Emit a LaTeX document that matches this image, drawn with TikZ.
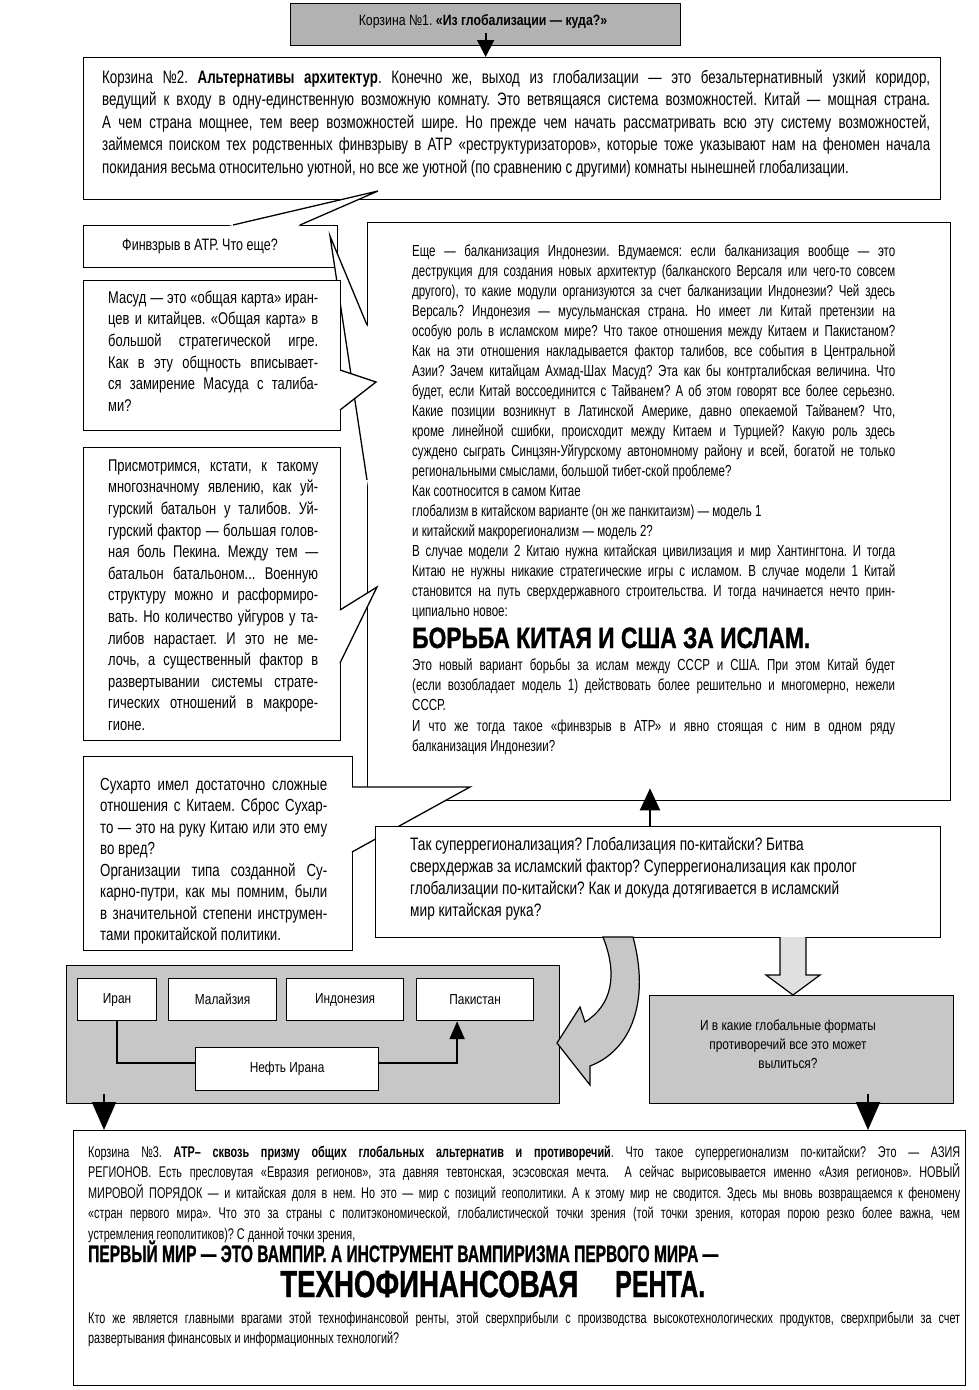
\documentclass[tikz,border=0pt]{standalone}
\usepackage{fontspec}
\usepackage{graphicx}
\setmainfont{Liberation Sans}[FakeStretch=0.82]
\newfontfamily\fA{Liberation Sans}[FakeStretch=0.74]
\newfontfamily\fB{Liberation Sans}[FakeStretch=0.72]
\newfontfamily\fL{Liberation Sans}[FakeStretch=0.76]
\newfontfamily\fC{Liberation Sans}[FakeStretch=0.70]
\newfontfamily\fT{Liberation Sans}[FakeStretch=0.76]
\newfontfamily\heavyfont{Liberation Sans}[BoldFeatures={FakeBold=1.2}]
\usetikzlibrary{arrows.meta,calc}
\def\jw{100pt}
\newcommand\Sp{\spaceskip=0pt\xspaceskip=0pt\relax}
\newcommand\J[1]{\makebox[\jw][s]{\Sp #1}}
\newcommand\fsz[2]{\fontsize{#1}{#2}\selectfont}
\newcommand\Hd[3]{\resizebox{#1}{#2}{\heavyfont\fontsize{\the\dimexpr #2*139/100\relax}{10pt}\selectfont\bfseries\raisebox{0pt}[0.716em][0pt]{#3}}}
\newcommand\Tail[3]{\fill[white] (#1) -- ($(#1)!1.08!(#2)$) -- ($(#1)!1.08!(#3)$) -- cycle;
  \draw[tailline] (#2) -- (#1) -- (#3);}
\begin{document}
\frenchspacing
\begin{tikzpicture}[x=1pt,y=-1pt,
  box/.style={draw=black,fill=white,line width=1.3pt,inner sep=0pt,anchor=north west},
  gbox/.style={box,fill=black!22},
  cell/.style={draw=black,fill=white,line width=1.2pt,anchor=north west,inner sep=0pt,font=\fsz{14.5}{16}},
  txt/.style={anchor=north west,inner sep=0pt,align=left},
  ctxt/.style={inner sep=0pt,align=center},
  tailline/.style={draw=black,line width=1.3pt,line join=miter},
  arr/.style={line width=2.4pt,-{Triangle[length=28pt,width=24pt]}},
  conn/.style={line width=2.2pt},
]
\useasboundingbox (0,0) rectangle (978,1390);
\fill[white] (0,0) rectangle (978,1390);

% Basket 2
\node[box,minimum width=857pt,minimum height=142pt] (k2) at (83,57) {};
\node[txt,text width=828pt,font={\fA\fsz{18}{22.5}\def\jw{828pt}}] (k2t) at (102,65) {\Sp
\J{\rule{0pt}{18pt}Корзина №2. \textbf{Альтернативы архитектур}. Конечно же, выход из глобализации — это безальтернативный узкий коридор,}\\
\J{ведущий к входу в одну-единственную возможную комнату. Это ветвящаяся система возможностей. Китай — мощная страна.}\\
\J{А чем страна мощнее, тем веер возможностей шире. Но прежде чем начать рассматривать всю эту систему возможностей,}\\
\J{займемся поиском тех родственных финвзрыву в АТР «реструктуризаторов», которые тоже указывают нам на феномен начала}\\
покидания весьма относительно уютной, но все же уютной (по сравнению с другими) комнаты нынешней глобализации.};

% Basket 1
\node[gbox,fill=black!30,minimum width=390pt,minimum height=42pt] (k1) at (290,3) {};
\node[ctxt,font=\fsz{15}{18}] (k1t) at (483,22) {Корзина №1. \textbf{«Из глобализации — куда?»}};
\draw[line width=1.8pt,-{Triangle[length=17pt,width=17pt]}] ([yshift=13pt]k1.south) -- (k1.south |- k2.north);

% Finvzryv bubble
\node[box,minimum width=254pt,minimum height=42pt] (fv) at (83,225) {};
\node[ctxt,font={\fT\fsz{16.5}{18}}] (fvt) at (200,246) {Финвзрыв в АТР. Что еще?};
\Tail{378,191}{233,225}{300,225}

% Big box
\node[box,minimum width=583pt,minimum height=578pt] (k4) at (367,222) {};
\Tail{330,236}{367,325}{367,480}
\node[txt,text width=483pt,font={\fB\fsz{16}{20}\def\jw{483pt}}] (k4a) at (412,240) {\Sp
\J{\rule{0pt}{16pt}Еще — балканизация Индонезии. Вдумаемся: если балканизация вообще — это}\\
\J{деструкция для создания новых архитектур (балканского Версаля или чего-то совсем}\\
\J{другого), то какие модули организуются за счет балканизации Индонезии? Чей здесь}\\
\J{Версаль? Индонезия — мусульманская страна. Но имеет ли Китай претензии на}\\
\J{особую роль в исламском мире? Что такое отношения между Китаем и Пакистаном?}\\
\J{Как на эти отношения накладывается фактор талибов, все события в Центральной}\\
\J{Азии? Зачем китайцам Ахмад-Шах Масуд? Эта как бы контрталибская величина. Что}\\
\J{будет, если Китай воссоединится с Тайванем? А об этом говорят все более серьезно.}\\
\J{Какие позиции возникнут в Латинской Америке, давно опекаемой Тайванем? Что,}\\
\J{кроме линейной сшибки, происходит между Китаем и Турцией? Какую роль здесь}\\
\J{суждено сыграть Синцзян-Уйгурскому автономному району и всей, богатой не только}\\
региональными смыслами, большой тибет-ской проблеме?\\
Как соотносится в самом Китае\\
глобализм в китайском варианте (он же панкитаизм) — модель 1\\
и китайский макрорегионализм — модель 2?\\
\J{В случае модели 2 Китаю нужна китайская цивилизация и мир Хантингтона. И тогда}\\
\J{Китаю не нужны никакие стратегические игры с исламом. В случае модели 1 Китай}\\
\J{становится на путь сверхдержавного строительства. И тогда начинается нечто прин-}\\
ципиально новое:};
\node[anchor=base west,inner sep=0pt] (k4h) at (412,648) {\Hd{398pt}{21pt}{БОРЬБА КИТАЯ И США ЗА ИСЛАМ.}};
\node[txt,text width=483pt,font={\fB\fsz{16}{20.3}\def\jw{483pt}}] (k4b) at (412,654) {\Sp
\J{\rule{0pt}{16pt}Это новый вариант борьбы за ислам между СССР и США. При этом Китай будет}\\
\J{(если возобладает модель 1) действовать более решительно и многомерно, нежели}\\
СССР.\\
\J{И что же тогда такое «финвзрыв в АТР» и явно стоящая с ним в одном ряду}\\
балканизация Индонезии?};

% Masud bubble
\node[box,minimum width=257pt,minimum height=150pt] (ms) at (83,280) {};
\Tail{376,382}{340,370}{340,410}
\node[txt,text width=210pt,font={\fL\fsz{17}{21.6}\def\jw{210pt}}] (mst) at (108,286) {\Sp
\J{\rule{0pt}{17pt}Масуд — это «общая карта» иран-}\\
\J{цев и китайцев. «Общая карта» в}\\
\J{большой стратегической игре.}\\
\J{Как в эту общность вписывает-}\\
\J{ся замирение Масуда с талиба-}\\
ми?};

% Uyghur bubble
\node[box,minimum width=257pt,minimum height=293pt] (pr) at (83,447) {};
\Tail{377,587}{340,610}{340,663}
\node[txt,text width=210pt,font={\fL\fsz{17}{21.6}\def\jw{210pt}}] (prt) at (108,454) {\Sp
\J{\rule{0pt}{17pt}Присмотримся, кстати, к такому}\\
\J{многозначному явлению, как уй-}\\
\J{гурский батальон у талибов. Уй-}\\
\J{гурский фактор — большая голов-}\\
\J{ная боль Пекина. Между тем —}\\
\J{батальон батальоном... Военную}\\
\J{структуру можно и расформиро-}\\
\J{вать. Но количество уйгуров у та-}\\
\J{либов нарастает. И это не ме-}\\
\J{лочь, а существенный фактор в}\\
\J{развертывании системы страте-}\\
\J{гических отношений в макроре-}\\
гионе.};

% Suharto bubble
\node[box,minimum width=269pt,minimum height=194pt] (sh) at (83,756) {};
\Tail{470,787}{352,787}{352,852}
\node[txt,text width=227pt,font={\fL\fsz{17.5}{21.5}\def\jw{227pt}}] (sht) at (100,772.5) {\Sp
\J{\rule{0pt}{17.5pt}Сухарто имел достаточно сложные}\\
\J{отношения с Китаем. Сброс Сухар-}\\
\J{то — это на руку Китаю или это ему}\\
во вред?\\
\J{Организации типа созданной Су-}\\
\J{карно-путри, как мы помним, были}\\
\J{в значительной степени инструмен-}\\
тами прокитайской политики.};

% Tak box
\node[box,minimum width=565pt,minimum height=111pt] (tak) at (375,826) {};
\node[txt,text width=500pt,font={\fT\fsz{18}{22}}] (takt) at (410,832) {\Sp
\rule{0pt}{18pt}Так суперрегионализация? Глобализация по-китайски? Битва\\
сверхдержав за исламский фактор? Суперрегионализация как пролог\\
глобализации по-китайски? Как и докуда дотягивается в исламский\\
мир китайская рука?};
\coordinate (u1) at ([xshift=275pt]tak.north west);
\coordinate (u2) at (u1 |- k4.south);
\draw[line width=2.2pt,-{Triangle[length=22pt,width=20pt]}] (u1) -- ([yshift=13pt]u2);

% Countries panel
\node[gbox,minimum width=493pt,minimum height=138pt] (pn) at (66,965) {};
\node[cell,minimum width=79pt,minimum height=42pt] (iran) at (77,978) {Иран};
\node[cell,minimum width=108pt,minimum height=42pt] (mal) at (168,978) {Малайзия};
\node[cell,minimum width=117pt,minimum height=42pt] (ind) at (286,978) {Индонезия};
\node[cell,minimum width=117pt,minimum height=42pt] (pak) at (416,978) {Пакистан};
\node[cell,minimum width=183pt,minimum height=43pt] (neft) at (195,1047) {Нефть Ирана};
\draw[conn] (iran.south) |- ([yshift=6pt]neft.west);
\draw[conn,-{Triangle[length=18pt,width=15pt]}] ([yshift=6pt]neft.east) -| ([xshift=-18pt]pak.south);

% Right grey box
\node[gbox,minimum width=304pt,minimum height=108pt] (rg) at (649,995) {};
\node[ctxt,font=\fsz{14.5}{19}] (rgt) at (788,1044) {И в какие глобальные форматы\\противоречий все это может\\вылиться?};

% hollow arrow Tak -> right grey box
\fill[black!12] (780,937) -- (780,975) -- (766,975) -- (793,995) -- (820,975) -- (806,975) -- (806,937) -- cycle;
\draw[line width=1.2pt,line join=miter] (780,937) -- (780,975) -- (766,975) -- (793,995) -- (820,975) -- (806,975) -- (806,937);

% curved arrow Tak -> panel
\filldraw[fill=black!22,draw=black,line width=1.2pt,line join=miter]
  (603,937) .. controls (618,975) and (612,1005) .. (585,1022)
  -- (580,1007) -- (557,1043) -- (590,1085) -- (590,1066)
  .. controls (632,1050) and (650,1000) .. (633,937) -- cycle;

% Basket 3
\node[box,minimum width=892pt,minimum height=255pt] (k3) at (73,1130) {};
\node[txt,text width=872pt,font={\fC\fsz{15.5}{20.5}\def\jw{872pt}}] (k3a) at (88,1141.5) {\Sp
\J{\rule{0pt}{15.5pt}Корзина №3. \textbf{АТР– сквозь призму общих глобальных альтернатив и противоречий}. Что такое суперрегионализм по-китайски? Это — АЗИЯ}\\
\J{РЕГИОНОВ. Есть пресловутая «Евразия регионов», эта давняя тевтонская, эсэсовская мечта.\ \ А сейчас вырисовывается именно «Азия регионов». НОВЫЙ}\\
\J{МИРОВОЙ ПОРЯДОК — и китайская доля в нем. Но это — мир с позиций геополитики. А к этому мир не сводится. Здесь мы вновь возвращаемся к феномену}\\
\J{«стран первого мира». Что это за страны с политэкономической, глобалистической точки зрения (той точки зрения, которая порою резко более важна, чем}\\
устремления геополитиков)? С данной точки зрения,};
\node[anchor=base west,inner sep=0pt] (k3h1) at (88,1262) {\Hd{630pt}{17pt}{ПЕРВЫЙ МИР — ЭТО ВАМПИР. А ИНСТРУМЕНТ ВАМПИРИЗМА ПЕРВОГО МИРА —}};
\node[anchor=base west,inner sep=0pt] (k3h2) at (280,1297) {\Hd{298pt}{27pt}{ТЕХНОФИНАНСОВАЯ}};
\node[anchor=base west,inner sep=0pt] (k3h3) at (615,1297) {\Hd{90pt}{27pt}{РЕНТА.}};
\node[txt,text width=872pt,font={\fC\fsz{15.5}{20.5}\def\jw{872pt}}] (k3b) at (88,1307.5) {\Sp
\J{\rule{0pt}{15.5pt}Кто же является главными врагами этой технофинансовой ренты, этой сверхприбыли с производства высокотехнологических продуктов, сверхприбыли за счет}\\
развертывания финансовых и информационных технологий?};

% black arrows into Basket 3
\coordinate (d1) at ([shift={(38pt,10pt)}]pn.south west);
\coordinate (d1e) at (d1 |- k3.north);
\draw[arr] (d1) -- (d1e);
\coordinate (d2) at ([shift={(219pt,10pt)}]rg.south west);
\coordinate (d2e) at (d2 |- k3.north);
\draw[arr] (d2) -- (d2e);
\end{tikzpicture}
\end{document}
